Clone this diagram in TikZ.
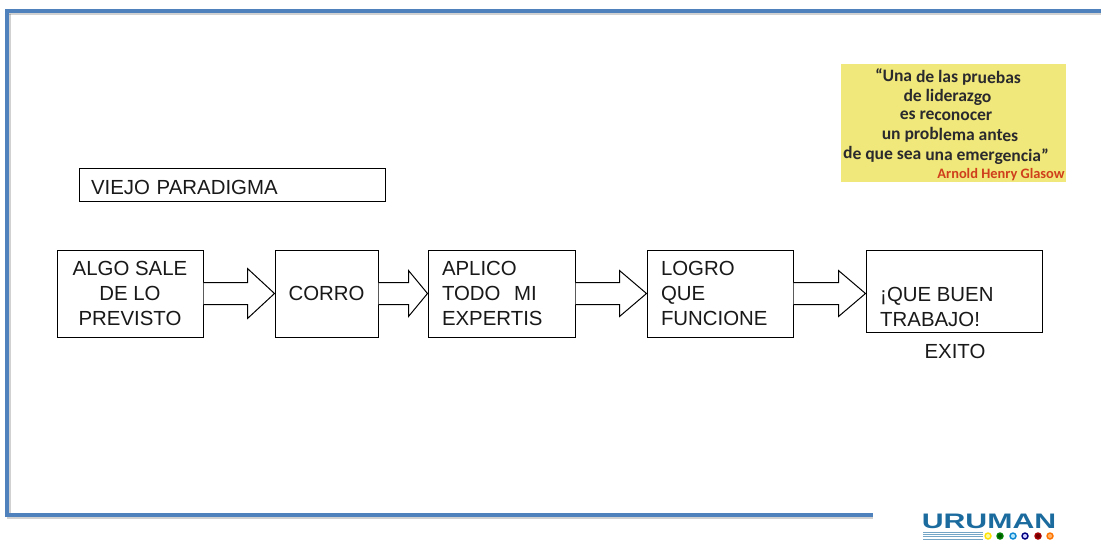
\documentclass[tikz,border=0pt]{standalone}
\usepackage{fontspec}
\usepackage{graphicx}
\setmainfont{Liberation Sans}
\newfontfamily\quotefont{Carlito}
\usetikzlibrary{calc}
\definecolor{frameblue}{HTML}{4F81BD}
\definecolor{quoteyellow}{HTML}{F0E87A}
\definecolor{quoteink}{HTML}{2A2A2E}
\definecolor{quotered}{HTML}{CF3F1C}
\definecolor{logoblue}{HTML}{1B6B9E}
\newcommand{\lowline}[1]{\raisebox{-1pt}{#1}}
\tikzset{
  boxbase/.style={draw=black,line width=1pt,fill=white,inner ysep=0pt,font=\fontsize{20.4}{25}\selectfont,text=black!90},
  centerbox/.style={boxbase,align=center},
  leftbox/.style={boxbase,align=left,inner xsep=0pt},
  plaintext/.style={font=\fontsize{20.4}{25}\selectfont,text=black!90,inner sep=0pt,align=left},
  blockarrow/.style={draw=black,line width=1pt,fill=white,line join=miter},
  frameline/.style={draw=frameblue,line width=3.3pt,line cap=butt},
  frameshade/.style={draw=black,line width=3.6pt,opacity=0.18},
  quoteline/.style={font=\quotefont\bfseries\fontsize{17.5}{18}\selectfont,text=quoteink,inner sep=0pt,rotate=-0.8},
  logodot/.style={circle,minimum size=6pt,inner sep=0pt,line width=1.4pt},
  logobar/.style={draw=logoblue!60,line width=1pt}
}
% #1 source node, #2 target node, #3 length of the head, #4 half height of the head
\newcommand{\blockarr}[4]{%
  \coordinate (tip) at (#2.west |- #1.east);
  \draw[blockarrow] ($(#1.east)+(0,-11)$) -- ($(tip)+(-#3,-11)$) -- ($(tip)+(-#3,-#4)$)
    -- (tip) -- ($(tip)+(-#3,#4)$) -- ($(tip)+(-#3,11)$) -- ($(#1.east)+(0,11)$);
}
\begin{document}
\begin{tikzpicture}[x=1pt,y=-1pt]
\useasboundingbox (0,0) rectangle (1101,542);
% frame with its soft shade
\draw[frameshade] (9,13.5) -- (1101,13.5);
\draw[frameshade] (9,13.5) -- (9,517.5) -- (873,517.5);
\draw[frameline] (7,515) -- (7,11) -- (1101,11);
\draw[frameline] (5.3,515) -- (873,515);
% title
\node[leftbox,anchor=north west,minimum width=306,minimum height=33,text width=306] (title) at (78.5,167.5) {\raisebox{-9.5pt}[0pt][0pt]{\hspace*{12pt}VIEJO PARADIGMA}};
% boxes
\node[centerbox,anchor=north west,minimum width=146,minimum height=87] (b1) at (56.5,249.5) {\lowline{ALGO SALE}\\\lowline{DE LO}\\\lowline{PREVISTO}};
\node[centerbox,anchor=north west,minimum width=103,minimum height=87] (b2) at (274.5,249.5) {\lowline{CORRO}};
\node[leftbox,anchor=north west,minimum width=147,minimum height=87,text width=147] (b3) at (427.5,249.5) {\lowline{\hspace*{14pt}APLICO}\\\lowline{\hspace*{14pt}TODO\ \ MI}\\\lowline{\hspace*{14pt}EXPERTIS}};
\node[leftbox,anchor=north west,minimum width=146,minimum height=87,text width=146] (b4) at (646.5,249.5) {\lowline{\hspace*{14pt}LOGRO}\\\lowline{\hspace*{14pt}QUE}\\\lowline{\hspace*{14pt}FUNCIONE}};
\node[boxbase,anchor=north west,minimum width=176,minimum height=82] (b5) at (865.5,249.5) {};
\node[plaintext,anchor=west] (b5text) at (880,306.5) {¡QUE BUEN\\TRABAJO!};
\node[plaintext] (exito) at (955,351.5) {EXITO};
% block arrows
\blockarr{b1}{b2}{27}{25}
\blockarr{b2}{b3}{19}{23}
\blockarr{b3}{b4}{27}{23}
\blockarr{b4}{b5}{27}{23}
% quote
\node[fill=quoteyellow,anchor=north west,minimum width=225,minimum height=118,inner sep=0pt] (quote) at (841,64) {};
\node[quoteline] (q1) at (948,77.5) {“Una de las pruebas};
\node[quoteline] (q2) at (947.5,97) {de liderazgo};
\node[quoteline] (q3) at (946,116) {es reconocer};
\node[quoteline] (q4) at (950,135.5) {un problema antes};
\node[quoteline] (q5) at (946,155.5) {de que sea una emergencia”};
\node[font=\quotefont\bfseries\fontsize{14.4}{14}\selectfont,text=quotered,inner sep=0pt] (author) at (1001,175) {Arnold Henry Glasow};
% logo
\node[font=\bfseries\fontsize{21}{21}\selectfont,text=logoblue,inner sep=0pt] (logo) at (989,521) {\scalebox{1.44}[1]{URUMAN}};
\foreach \yy in {532,534.3,536.6,539}{\draw[logobar] (923,\yy) -- (983,\yy);}
\node[logodot,draw=yellow!85!orange,fill=yellow!40] (d1) at (988,536) {};
\node[logodot,draw=green!50!black,fill=green!35!black] (d2) at (1000,536) {};
\node[logodot,draw=cyan!70!blue,fill=cyan!30] (d3) at (1013,536) {};
\node[logodot,draw=blue!50!black,fill=blue!20] (d4) at (1025,536) {};
\node[logodot,draw=red!65!black,fill=red!45!black] (d5) at (1038,536) {};
\node[logodot,draw=orange!90!red,fill=orange!60] (d6) at (1050,536) {};
\end{tikzpicture}
\end{document}
